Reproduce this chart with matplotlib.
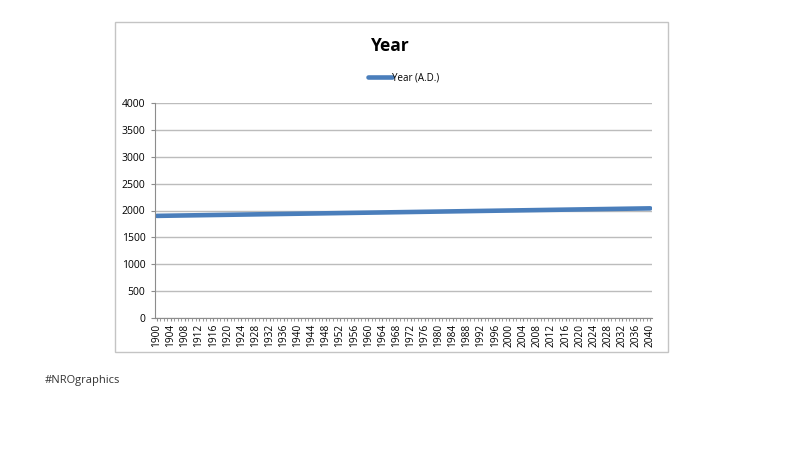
import matplotlib
matplotlib.use("Agg")
import matplotlib.pyplot as plt
from matplotlib.patches import Rectangle

plt.rcParams['font.family'] = ['Open Sans', 'DejaVu Sans']

# data: the year plotted against itself
years = list(range(1900, 2041))
year_ad = list(range(1900, 2041))
label_years = years[::4]

fig = plt.figure(figsize=(8, 4.5), dpi=100)

# chart frame (Excel style box)
fig.patches.append(Rectangle((115 / 800, 1 - 352 / 450), 553 / 800, 330 / 450,
                             transform=fig.transFigure, fill=False,
                             edgecolor='#c4c4c4', linewidth=1))

ax = fig.add_axes([155 / 800, 1 - 318 / 450, 497 / 800, 215 / 450])
x = list(range(len(years)))
ax.plot(x, year_ad, color='#4a7ebb', linewidth=3.3, solid_capstyle='round',
        label='Year (A.D.)')

ax.set_xlim(-0.5, len(years) - 0.5)
ax.set_ylim(0, 4000)
ax.set_yticks(range(0, 4001, 500))
ax.yaxis.grid(True, color='#bcbcbc', linewidth=1)
ax.set_axisbelow(True)
ax.set_xticks([years.index(y) for y in label_years])
ax.set_xticklabels([str(y) for y in label_years], rotation=90, fontsize=7.3)
ax.set_xticks(x, minor=True)
ax.tick_params(axis='x', which='both', length=2, color='#8c8c8c', pad=2)
ax.tick_params(axis='y', length=3, color='#8c8c8c', labelsize=7.5, pad=4)
for s in ['top', 'right']:
    ax.spines[s].set_visible(False)
for s in ['left', 'bottom']:
    ax.spines[s].set_color('#8c8c8c')

fig.text(390 / 800, 1 - 46 / 450, 'Year', ha='center', va='center',
         fontsize=12.5, fontweight='bold')
ax.legend(loc='lower center', bbox_to_anchor=(0.5, 1.05), frameon=False,
          fontsize=7, handlelength=2.5, handletextpad=0.0)

fig.text(45 / 800, 1 - 380 / 450, '#NROgraphics', ha='left', va='center',
         fontsize=8, color='#333333')

fig.savefig('out.png', dpi=100)
